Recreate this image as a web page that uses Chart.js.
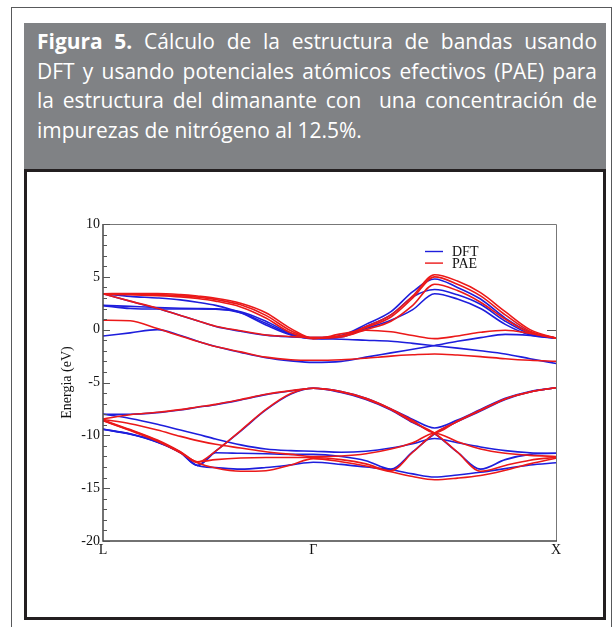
<!DOCTYPE html>
<html>
<head>
<meta charset="utf-8">
<script src="https://cdn.jsdelivr.net/npm/chart.js@4.4.1/dist/chart.umd.min.js"></script>
<style>
html, body { margin: 0; padding: 0; background: #fff; width: 613px; height: 627px; overflow: hidden; }
#frame { position: absolute; left: 11px; top: 7px; width: 599px; height: 640px; border: 1px solid #58595b; border-bottom: none; }
#head { position: absolute; left: 24px; top: 23px; width: 582px; height: 147px; background: #808285; }
#caption { position: absolute; left: 13px; top: 4px; width: 560px; color: #fff; font-family: "Open Sans", sans-serif; font-size: 20px; line-height: 29.7px; }
#caption div { white-space: nowrap; text-align: justify; text-align-last: justify; }
#caption div.last { text-align-last: left; }
#box { position: absolute; left: 24px; top: 169px; width: 582px; height: 451px; border: 3px solid #231f20; box-sizing: border-box; background: #fff; }
canvas { display: block; }
</style>
</head>
<body>
<div id="frame"></div>
<div id="head">
  <div id="caption">
    <div><span><b>Figura 5.</b> Cálculo de la estructura de bandas usando</span></div>
    <div><span>DFT y usando potenciales atómicos efectivos (PAE) para</span></div>
    <div><span>la estructura del dimanante con&nbsp; una concentración de</span></div>
    <div class="last"><span id="l4">impurezas de nitrógeno al 12.5%.</span></div>
  </div>
</div>
<div id="box"><canvas id="bands" width="576" height="445"></canvas></div>

<script>
// k-path: L = 0, Gamma = 0.866, X = 1.866
const kPath = [0, 0.112, 0.224, 0.319, 0.389, 0.464, 0.567, 0.671, 0.774, 0.866,
               0.981, 1.083, 1.186, 1.276, 1.366, 1.460, 1.555, 1.657, 1.759, 1.866];
const xTickValues = [0, 0.866, 1.866];
const xTickLabels = ['L', 'Γ', 'X'];
const yTickValues = [-20, -15, -10, -5, 0, 5, 10];
const yTickLabels = ['-20', '-15', '-10', '-5', '0', '5', '10'];

// DFT bands (eV)
const dft1 = [3.4, 2.68, 2.0, 1.35, 0.85, 0.3, -0.15, -0.52, -0.68, -0.75, -0.55, 0.5, 1.7, 3.6, 4.8, 4.0, 2.9, 1.1, -0.25, -0.8];
const dft2 = [3.4, 3.15, 3.0, 2.82, 2.6, 2.3, 1.6, 0.45, -0.5, -0.8, -0.6, 0.3, 1.4, 3.1, 3.8, 3.3, 2.4, 0.8, -0.4, -0.8];
const dft3 = [2.28, 2.0, 1.95, 1.95, 1.95, 1.93, 1.6, 0.6, -0.45, -0.85, -0.7, 0.1, 0.9, 1.9, 3.4, 2.9, 2.0, 0.5, -0.5, -0.8];
const dft4 = [2.3, 2.2, 2.1, 2.03, 2.0, 1.97, 1.7, 0.8, -0.35, -0.82, -0.9, -1.0, -1.1, -1.3, -1.52, -1.75, -2.0, -2.3, -2.75, -3.2];
const dft5 = [-0.6, -0.3, 0.0, -0.55, -1.1, -1.6, -2.15, -2.65, -2.95, -3.1, -3.0, -2.6, -2.2, -1.85, -1.5, -1.1, -0.75, -0.45, -0.55, -0.8];
const dft6 = [-8.0, -8.0, -7.85, -7.6, -7.35, -7.1, -6.65, -6.15, -5.8, -5.55, -5.95, -6.6, -7.6, -8.8, -9.85, -11.6, -13.2, -12.3, -11.8, -11.7];
const dft7 = [-8.0, -8.4, -8.95, -9.5, -9.9, -10.35, -10.9, -11.3, -11.45, -11.5, -11.6, -11.5, -11.2, -10.8, -10.3, -10.7, -11.1, -11.45, -11.65, -11.7];
const dft8 = [-9.4, -9.85, -10.6, -11.6, -12.85, -11.5, -9.6, -7.6, -6.1, -5.55, -5.85, -6.5, -7.5, -8.5, -9.3, -8.55, -7.55, -6.5, -5.85, -5.5];
const dft9 = [-9.42, -9.87, -10.63, -11.63, -12.85, -11.65, -11.7, -11.75, -11.8, -11.8, -12.0, -12.4, -13.2, -11.55, -9.85, -8.7, -7.7, -6.6, -5.9, -5.5];
const dft10 = [-9.45, -9.9, -10.66, -11.66, -12.85, -13.05, -13.2, -13.05, -12.8, -12.55, -12.75, -13.0, -13.25, -13.65, -13.95, -13.75, -13.5, -13.15, -12.8, -12.6];

// PAE bands (eV)
const pae1 = [3.4, 2.7, 2.03, 1.35, 0.85, 0.33, -0.1, -0.5, -0.65, -0.72, -0.6, 0.3, 1.4, 3.2, 5.2, 4.6, 3.5, 1.7, 0.0, -0.8];
const pae2 = [3.4, 3.42, 3.42, 3.32, 3.18, 2.98, 2.5, 1.6, 0.1, -0.8, -0.6, 0.2, 1.2, 3.0, 5.0, 4.3, 3.2, 1.4, -0.15, -0.8];
const pae3 = [3.38, 3.36, 3.32, 3.22, 3.08, 2.85, 2.35, 1.35, -0.1, -0.82, -0.7, 0.0, 0.8, 2.3, 4.3, 3.7, 2.6, 1.0, -0.3, -0.8];
const pae4 = [3.36, 3.3, 3.22, 3.1, 2.95, 2.7, 2.15, 1.1, -0.3, -0.85, -0.4, -0.05, -0.2, -0.55, -0.85, -0.6, -0.25, -0.05, -0.35, -0.8];
const pae5 = [0.9, 0.85, 0.1, -0.6, -1.1, -1.6, -2.1, -2.6, -2.85, -2.9, -2.85, -2.7, -2.5, -2.38, -2.3, -2.4, -2.55, -2.75, -2.9, -3.0];
const pae6 = [-8.45, -8.05, -7.82, -7.57, -7.32, -7.07, -6.62, -6.12, -5.77, -5.55, -5.9, -6.55, -7.55, -8.75, -9.8, -11.6, -13.4, -12.85, -12.35, -12.07];
const pae7 = [-8.5, -8.9, -9.5, -10.1, -10.5, -10.85, -11.2, -11.55, -11.8, -12.0, -11.95, -11.75, -11.3, -10.7, -9.8, -10.6, -11.3, -11.7, -11.9, -12.0];
const pae8 = [-8.6, -9.5, -10.5, -11.6, -12.55, -11.5, -9.55, -7.55, -6.05, -5.55, -5.85, -6.5, -7.5, -8.6, -9.75, -8.65, -7.6, -6.55, -5.9, -5.5];
const pae9 = [-8.62, -9.55, -10.55, -11.65, -12.6, -13.1, -13.4, -13.35, -12.8, -12.2, -12.5, -12.9, -13.45, -13.9, -14.2, -14.05, -13.8, -13.3, -12.7, -12.17];
const pae10 = [-8.55, -9.45, -10.45, -11.55, -12.5, -12.3, -12.15, -12.1, -12.1, -12.1, -12.3, -12.7, -13.35, -11.6, -9.8, -8.7, -7.65, -6.55, -5.9, -5.5];

const dftBands = [dft1, dft2, dft3, dft4, dft5, dft6, dft7, dft8, dft9, dft10];
const paeBands = [pae1, pae2, pae3, pae4, pae5, pae6, pae7, pae8, pae9, pae10];

const blue = 'rgb(30,30,220)';
const red = 'rgb(235,25,25)';
const serif = '"Liberation Serif", "Times New Roman", serif';

// caption: size the font from the last (unjustified) line, squeeze if a line is too long
const caption = document.getElementById('caption');
const l4 = document.getElementById('l4');
caption.style.fontSize = (20 * 325 / l4.getBoundingClientRect().width).toFixed(2) + 'px';
caption.querySelectorAll('span').forEach(function(s) {
    const w = s.getBoundingClientRect().width;
    if (w > 560) s.style.letterSpacing = ((560 - w) / s.textContent.length).toFixed(3) + 'px';
});

function bandSets(bands, label, color, order) {
    return bands.map(function(b, i) {
        return {
            label: i === 0 ? label : '',
            data: b.map(function(e, j) { return {x: kPath[j], y: e}; }),
            borderColor: color,
            backgroundColor: color,
            borderWidth: 1.6,
            pointRadius: 0,
            fill: false,
            cubicInterpolationMode: 'monotone',
            order: order
        };
    });
}

// frame, inward ticks and legend
const framePlugin = {
    id: 'framePlugin',
    afterDraw(chart) {
        const ctx = chart.ctx;
        const a = chart.chartArea;
        const ys = chart.scales.y;
        ctx.save();
        ctx.lineWidth = 1;
        ctx.strokeStyle = '#777';
        ctx.beginPath();
        ctx.moveTo(a.left, a.top + 0.5);
        ctx.lineTo(a.right + 0.5, a.top + 0.5);
        ctx.lineTo(a.right + 0.5, a.bottom);
        ctx.stroke();
        ctx.strokeStyle = '#444';
        ctx.lineWidth = 1.5;
        ctx.beginPath();
        ctx.moveTo(a.left, a.top);
        ctx.lineTo(a.left, a.bottom);
        ctx.lineTo(a.right + 1, a.bottom);
        ctx.stroke();
        // minor / major ticks on the left axis
        ctx.lineWidth = 1;
        ctx.strokeStyle = '#555';
        ctx.beginPath();
        for (let v = -20; v <= 10; v++) {
            const y = Math.round(ys.getPixelForValue(v)) + 0.5;
            const len = v % 5 === 0 ? 7 : 4;
            ctx.moveTo(a.left, y);
            ctx.lineTo(a.left + len, y);
        }
        // Fermi level mark on the right axis
        const y0 = Math.round(ys.getPixelForValue(0)) + 0.5;
        ctx.moveTo(a.right - 9, y0);
        ctx.lineTo(a.right, y0);
        ctx.stroke();
        // legend
        const items = [
            {text: chart.data.datasets[0].label, color: chart.data.datasets[0].borderColor},
            {text: chart.data.datasets[dftBands.length].label, color: chart.data.datasets[dftBands.length].borderColor}
        ];
        ctx.font = '14px ' + serif;
        ctx.textBaseline = 'alphabetic';
        ctx.fillStyle = '#111';
        items.forEach(function(it, i) {
            const y = 79.5 + i * 11.6;
            ctx.strokeStyle = it.color;
            ctx.lineWidth = 1.4;
            ctx.beginPath();
            ctx.moveTo(398, y);
            ctx.lineTo(416, y);
            ctx.stroke();
            ctx.fillText(it.text, 425, y + 4.6);
        });
        ctx.restore();
    }
};

new Chart(document.getElementById('bands').getContext('2d'), {
    type: 'line',
    data: {
        datasets: bandSets(dftBands, 'DFT', blue, 1).concat(bandSets(paeBands, 'PAE', red, 0))
    },
    options: {
        responsive: false,
        animation: false,
        devicePixelRatio: 1,
        layout: { padding: { top: 52, right: 47, left: 0, bottom: 0 } },
        scales: {
            x: {
                type: 'linear',
                min: 0,
                max: 1.866,
                afterBuildTicks: function(scale) {
                    scale.ticks = xTickValues.map(function(v) { return {value: v}; });
                },
                afterFit: function(scale) { scale.height = 76; },
                grid: { display: false, drawTicks: false },
                border: { display: false },
                ticks: {
                    padding: 1,
                    color: '#111',
                    maxRotation: 0,
                    autoSkip: false,
                    font: { family: serif, size: 14 },
                    callback: function(v) { return xTickLabels[xTickValues.indexOf(v)]; }
                }
            },
            y: {
                min: -20,
                max: 10,
                afterBuildTicks: function(scale) {
                    scale.ticks = yTickValues.map(function(v) { return {value: v}; });
                },
                afterFit: function(scale) { scale.width = 76; },
                grid: { display: false, drawTicks: false },
                border: { display: false },
                title: {
                    display: true,
                    text: 'Energia (eV)',
                    color: '#111',
                    font: { family: serif, size: 14 },
                    padding: { top: 32, bottom: 0 }
                },
                ticks: {
                    padding: 3,
                    color: '#111',
                    font: { family: serif, size: 14 },
                    callback: function(v) { return yTickLabels[yTickValues.indexOf(v)]; }
                }
            }
        },
        plugins: {
            legend: { display: false },
            tooltip: { enabled: false }
        }
    },
    plugins: [framePlugin]
});
</script>
</body>
</html>
